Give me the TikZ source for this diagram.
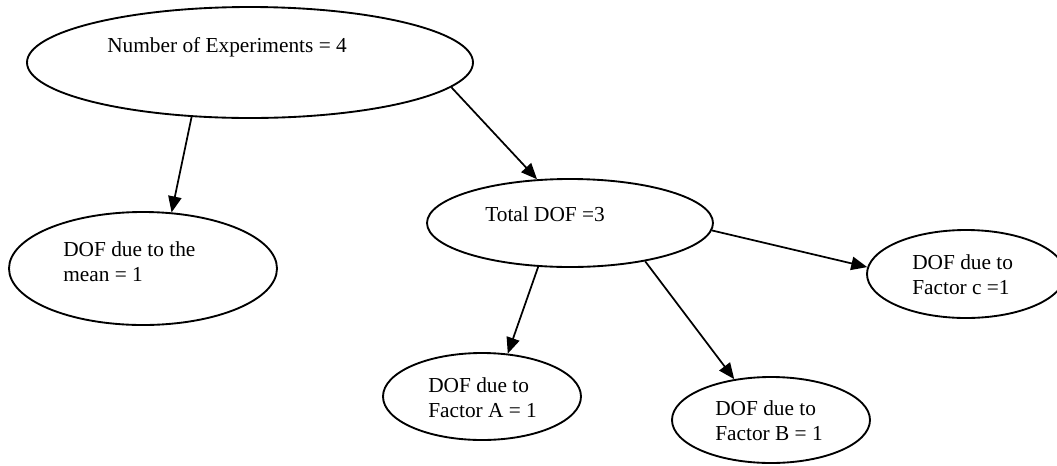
\documentclass[tikz,border=0pt]{standalone}
\usepackage{fontspec}
\setmainfont{Liberation Serif}
\usetikzlibrary{arrows.meta,shapes.geometric}
\begin{document}
\begin{tikzpicture}[x=0.75pt,y=-0.75pt,
  bubble/.style={draw, ellipse, line width=1.4pt, inner sep=0pt},
  caption/.style={anchor=base west, inner sep=0pt, align=left,
    font=\fontsize{16pt}{18.4pt}\selectfont},
  link/.style={line width=1.3pt, -{Triangle[length=12pt,width=10pt]}}]
% page area
\fill[white] (0,0) rectangle (1057,465);
\useasboundingbox (0,0) rectangle (1057,465);

% ellipses
\node[bubble, minimum width=334.5pt, minimum height=83.25pt] (exp)  at (250,62.5)  {};
\node[bubble, minimum width=201pt,   minimum height=84.75pt] (mean) at (143,268.5) {};
\node[bubble, minimum width=214.5pt, minimum height=66pt]    (tot)  at (570,223)   {};
\node[bubble, minimum width=148.5pt, minimum height=66pt]    (fc)   at (966,274)   {};
\node[bubble, minimum width=148.5pt, minimum height=65.25pt] (fa)   at (482,396.5) {};
\node[bubble, minimum width=148.5pt, minimum height=64.5pt]  (fb)   at (771,420)   {};

% texts (multi-line nodes sit on the baseline of their last line)
\node[caption] (expT)  at (107,52)  {Number of Experiments = 4};
\node[caption] (meanT) at (63,281)  {DOF due to the\\mean = 1};
\node[caption] (totT)  at (485,221) {Total DOF =3};
\node[caption] (fcT)   at (912,294) {DOF due to\\Factor c =1};
\node[caption] (faT)   at (428,417) {DOF due to\\Factor A = 1};
\node[caption] (fbT)   at (715,440) {DOF due to\\Factor B = 1};

% connectors
\draw[link] (exp.-137.2) -- (mean.63.6);
\draw[link] (exp.-7)     -- (tot.127.1);
\draw[link] (tot.-3.2)   -- (fc.176);
\draw[link] (tot.-126.9) -- (fa.59.7);
\draw[link] (tot.-27.5)  -- (fb.132.3);
\end{tikzpicture}
\end{document}
